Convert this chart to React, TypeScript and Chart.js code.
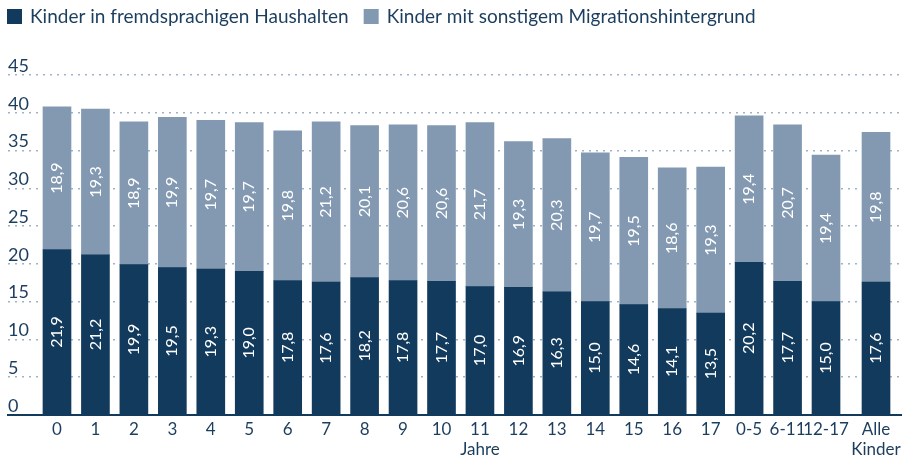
import React, { useEffect, useRef } from "react";
import { Chart, registerables } from "chart.js";

Chart.register(...registerables);

const categories: string[][] = [
  ["0"], ["1"], ["2"], ["3"], ["4"], ["5"], ["6"], ["7"], ["8"], ["9"], ["10"],
  ["11", "Jahre"], ["12"], ["13"], ["14"], ["15"], ["16"], ["17"],
  ["0-5"], ["6-11"], ["12-17"], ["Alle", "Kinder"],
];
const positions: number[] = [
  0, 1, 2, 3, 4, 5, 6, 7, 8, 9, 10, 11, 12, 13, 14, 15, 16, 17, 18, 19, 20, 21.3,
];
const fremdsprachig: number[] = [
  21.9, 21.2, 19.9, 19.5, 19.3, 19.0, 17.8, 17.6, 18.2, 17.8, 17.7, 17.0, 16.9, 16.3,
  15.0, 14.6, 14.1, 13.5, 20.2, 17.7, 15.0, 17.6,
];
const sonstige: number[] = [
  18.9, 19.3, 18.9, 19.9, 19.7, 19.7, 19.8, 21.2, 20.1, 20.6, 20.6, 21.7, 19.3, 20.3,
  19.7, 19.5, 18.6, 19.3, 19.4, 20.7, 19.4, 19.8,
];
const seriesNames = ["Kinder in fremdsprachigen Haushalten", "Kinder mit sonstigem Migrationshintergrund"];

const DARK = "#123a5c";
const LIGHT = "#8299b1";
const TEXT = "#1b3d5e";
const FONT = "Lato";

const valueLabels = {
  id: "valueLabels",
  afterDatasetsDraw(chart: any) {
    const ctx = chart.ctx;
    chart.data.datasets.forEach((ds: any, di: number) => {
      const meta = chart.getDatasetMeta(di);
      meta.data.forEach((el: any, i: number) => {
        const v = ds.data[i].y;
        const cy = (el.y + el.base) / 2;
        ctx.save();
        ctx.translate(el.x, cy);
        ctx.rotate(-Math.PI / 2);
        ctx.fillStyle = "#ffffff";
        ctx.font = `16px ${FONT}`;
        ctx.textAlign = "center";
        ctx.textBaseline = "middle";
        ctx.fillText(v.toFixed(1).replace(".", ","), 0, 0);
        ctx.restore();
      });
    });
  },
};

const topLegend = {
  id: "topLegend",
  afterDraw(chart: any) {
    const ctx = chart.ctx;
    ctx.save();
    ctx.font = `19px ${FONT}`;
    ctx.textBaseline = "middle";
    ctx.textAlign = "left";
    let x = 7;
    chart.data.datasets.forEach((ds: any) => {
      ctx.fillStyle = ds.backgroundColor;
      ctx.fillRect(x, 9, 15, 15);
      ctx.fillStyle = TEXT;
      ctx.fillText(ds.label, x + 23, 17);
      x += 23 + ctx.measureText(ds.label).width + 15;
    });
    ctx.restore();
  },
};

export default function App() {
  const ref = useRef<HTMLCanvasElement>(null);
  useEffect(() => {
    document.body.style.margin = "0";
    const chart = new Chart(ref.current!, {
      type: "bar",
      data: {
        datasets: [
          {
            label: seriesNames[0],
            data: positions.map((x, i) => ({ x, y: fremdsprachig[i] })),
            backgroundColor: DARK,
            barThickness: 28,
          },
          {
            label: seriesNames[1],
            data: positions.map((x, i) => ({ x, y: sonstige[i] })),
            backgroundColor: LIGHT,
            barThickness: 28,
          },
        ],
      },
      options: {
        animation: false,
        responsive: false,
        layout: { padding: { left: 8, right: 8, top: 75, bottom: 0 } },
        plugins: {
          legend: { display: false },
          tooltip: { enabled: false },
        },
        scales: {
          x: {
            type: "linear",
            stacked: true,
            offset: false,
            min: -1.274,
            max: 21.95,
            grid: { display: false, drawTicks: false, offset: false },
            border: { display: true, color: DARK, width: 2 },
            afterBuildTicks: (scale: any) => {
              scale.ticks = positions.map((v) => ({ value: v }));
            },
            afterFit: (scale: any) => {
              scale.height = 46;
              scale.paddingLeft = 0;
              scale.paddingRight = 0;
            },
            ticks: {
              autoSkip: false,
              maxRotation: 0,
              color: TEXT,
              padding: 5,
              font: { family: FONT, size: 17, lineHeight: 1.15 },
              callback: (value: any) => {
                const idx = positions.indexOf(Number(value));
                return idx >= 0 ? categories[idx] : "";
              },
            },
          },
          y: {
            stacked: true,
            min: 0,
            max: 45,
            afterFit: (scale: any) => {
              scale.width = 0;
              scale.paddingTop = 0;
              scale.paddingBottom = 0;
            },
            grid: { color: "#9fb3c8", lineWidth: 1.5, drawTicks: false },
            border: { display: false, dash: [2, 5] },
            ticks: {
              stepSize: 5,
              mirror: true,
              padding: 0,
              labelOffset: -9,
              color: TEXT,
              font: { family: FONT, size: 18 },
            },
          },
        },
      },
      plugins: [valueLabels, topLegend],
    });
    return () => chart.destroy();
  }, []);
  return <canvas ref={ref} width={909} height={461} style={{ display: "block" }} />;
}
